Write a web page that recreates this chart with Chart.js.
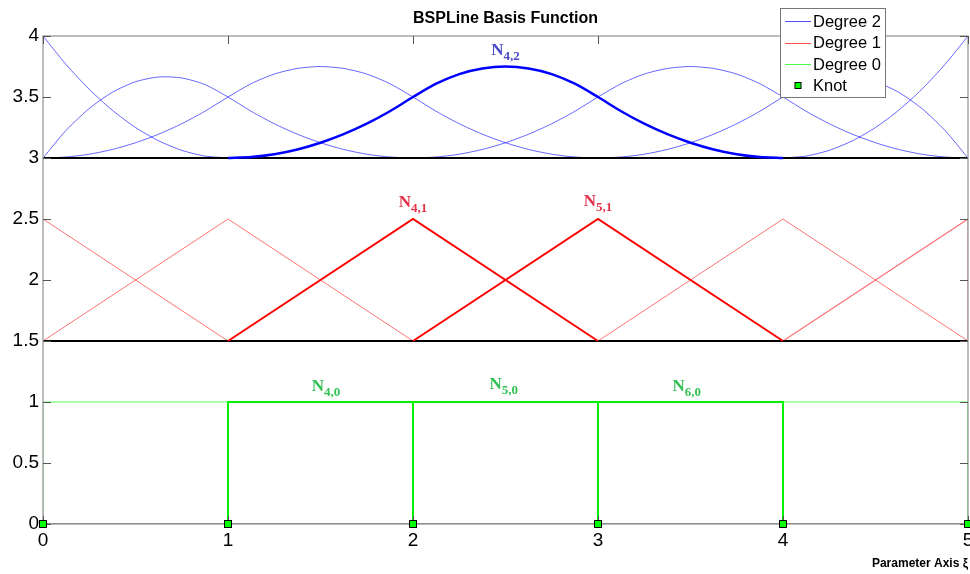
<!DOCTYPE html>
<html>
<head>
<meta charset="utf-8">
<title>BSPLine Basis Function</title>
<script src="https://cdn.jsdelivr.net/npm/chart.js@4/dist/chart.umd.min.js"></script>
<style>
  html, body { margin: 0; padding: 0; background: #fff; }
  #wrap { width: 970px; height: 574px; }
</style>
</head>
<body>
<div id="wrap"><canvas id="c" width="970" height="574"></canvas></div>
<script>
// Knot vector (clamped, quadratic) and axis ticks
const KNOTS = [0, 0, 0, 1, 2, 3, 4, 5, 5, 5];
const X_TICKS = [0, 1, 2, 3, 4, 5];
const Y_TICKS = [0, 0.5, 1, 1.5, 2, 2.5, 3, 3.5, 4];

// Sample positions for the degree-2 curves
const XI = [0, 0.125, 0.25, 0.375, 0.5, 0.625, 0.75, 0.875,
            1, 1.125, 1.25, 1.375, 1.5, 1.625, 1.75, 1.875,
            2, 2.125, 2.25, 2.375, 2.5, 2.625, 2.75, 2.875,
            3, 3.125, 3.25, 3.375, 3.5, 3.625, 3.75, 3.875,
            4, 4.125, 4.25, 4.375, 4.5, 4.625, 4.75, 4.875, 5];
const _ = null;

// Degree 2 basis functions, drawn on the band starting at 3
const N1_2 = [4, 3.766, 3.563, 3.391, 3.25, 3.141, 3.063, 3.016, 3,
              _,_,_,_,_,_,_,_, _,_,_,_,_,_,_,_, _,_,_,_,_,_,_,_, _,_,_,_,_,_,_,_];
const N2_2 = [3, 3.227, 3.406, 3.539, 3.625, 3.664, 3.656, 3.602, 3.5,
              3.383, 3.281, 3.195, 3.125, 3.070, 3.031, 3.008, 3,
              _,_,_,_,_,_,_,_, _,_,_,_,_,_,_,_, _,_,_,_,_,_,_,_];
const N3_2 = [3, 3.008, 3.031, 3.070, 3.125, 3.195, 3.281, 3.383, 3.5,
              3.609, 3.688, 3.734, 3.75, 3.734, 3.688, 3.609, 3.5,
              3.383, 3.281, 3.195, 3.125, 3.070, 3.031, 3.008, 3,
              _,_,_,_,_,_,_,_, _,_,_,_,_,_,_,_];
const N4_2 = [_,_,_,_,_,_,_,_,
              3, 3.008, 3.031, 3.070, 3.125, 3.195, 3.281, 3.383, 3.5,
              3.609, 3.688, 3.734, 3.75, 3.734, 3.688, 3.609, 3.5,
              3.383, 3.281, 3.195, 3.125, 3.070, 3.031, 3.008, 3,
              _,_,_,_,_,_,_,_];
const N5_2 = [_,_,_,_,_,_,_,_, _,_,_,_,_,_,_,_,
              3, 3.008, 3.031, 3.070, 3.125, 3.195, 3.281, 3.383, 3.5,
              3.609, 3.688, 3.734, 3.75, 3.734, 3.688, 3.609, 3.5,
              3.383, 3.281, 3.195, 3.125, 3.070, 3.031, 3.008, 3];
const N6_2 = [_,_,_,_,_,_,_,_, _,_,_,_,_,_,_,_, _,_,_,_,_,_,_,_,
              3, 3.008, 3.031, 3.070, 3.125, 3.195, 3.281, 3.383, 3.5,
              3.602, 3.656, 3.664, 3.625, 3.539, 3.406, 3.227, 3];
const N7_2 = [_,_,_,_,_,_,_,_, _,_,_,_,_,_,_,_, _,_,_,_,_,_,_,_, _,_,_,_,_,_,_,_,
              3, 3.016, 3.063, 3.141, 3.25, 3.391, 3.563, 3.766, 4];

// Degree 1 basis functions (hat functions), band starting at 1.5
const X1 = [0, 1, 2, 3, 4, 5, 5];
const N2_1 = [2.5, 1.5, _, _, _, _, _];
const N3_1 = [1.5, 2.5, 1.5, _, _, _, _];
const N4_1 = [_, 1.5, 2.5, 1.5, _, _, _];
const N5_1 = [_, _, 1.5, 2.5, 1.5, _, _];
const N6_1 = [_, _, _, 1.5, 2.5, 1.5, _];
const N7_1 = [_, _, _, _, 1.5, 2.5, 1.5];

// Degree 0 basis functions (steps), band starting at 0
const X0 = [0, 0, 1, 1, 2, 2, 3, 3, 4, 4, 5, 5];
const N3_0 = [0, 1, 1, 0, _, _, _, _, _, _, _, _];
const N4_0 = [_, _, 0, 1, 1, 0, _, _, _, _, _, _];
const N5_0 = [_, _, _, _, 0, 1, 1, 0, _, _, _, _];
const N6_0 = [_, _, _, _, _, _, 0, 1, 1, 0, _, _];
const N7_0 = [_, _, _, _, _, _, _, _, 0, 1, 1, 0];

// Band baselines
const BASE_X = [0, 5];
const BASELINES = [3, 1.5, 0];

// Curve annotations: name, subscript, x, y
const LABELS = [
  { n: 'N', sub: '4,2', x: 2.5,  y: 3.845, color: '#4b4bc8' },
  { n: 'N', sub: '4,1', x: 2.0,  y: 2.60,  color: '#e3334a' },
  { n: 'N', sub: '5,1', x: 3.0,  y: 2.61,  color: '#e3334a' },
  { n: 'N', sub: '4,0', x: 1.53, y: 1.09,  color: '#33c155' },
  { n: 'N', sub: '5,0', x: 2.49, y: 1.105, color: '#33c155' },
  { n: 'N', sub: '6,0', x: 3.48, y: 1.09,  color: '#33c155' }
];

const LEGEND = [
  { text: 'Degree 2', color: '#4d4dff', type: 'line' },
  { text: 'Degree 1', color: '#ff4d4d', type: 'line' },
  { text: 'Degree 0', color: '#4dff4d', type: 'line' },
  { text: 'Knot', color: '#00ff00', type: 'knot' }
];

const THIN_BLUE = 'rgba(0,0,255,0.6)';
const BOLD_BLUE = '#0000ff';
const THIN_RED = 'rgba(255,0,0,0.55)';
const BOLD_RED = '#ff0000';
const THIN_GREEN = 'rgba(0,255,0,0.65)';
const BOLD_GREEN = '#00f000';

function pts(xs, ys) {
  return xs.map((x, i) => ({ x: x, y: ys[i] }));
}
function curve(xs, ys, color, width, order, smooth) {
  return {
    data: pts(xs, ys), borderColor: color, borderWidth: width,
    pointRadius: 0, fill: false, spanGaps: false, order: order,
    tension: smooth ? 0.25 : 0
  };
}

const datasets = [
  // knots on top
  {
    data: KNOTS.map(k => ({ x: k, y: 0 })), showLine: false,
    pointStyle: 'rect', pointRadius: 3.5, pointBackgroundColor: '#00ff00',
    pointBorderColor: '#000', pointBorderWidth: 1, order: 0
  },
  curve(XI, N4_2, BOLD_BLUE, 2.5, 2, true),
  curve(X1, N4_1, BOLD_RED, 2, 2, false),
  curve(X1, N5_1, BOLD_RED, 2, 2, false),
  curve(X0, N4_0, BOLD_GREEN, 2, 2, false),
  curve(X0, N5_0, BOLD_GREEN, 2, 2, false),
  curve(X0, N6_0, BOLD_GREEN, 2, 2, false),
  ...BASELINES.map((b, i) => curve(BASE_X, [b, b], i === 2 ? '#4a4a4a' : '#000', 2, 3, false)),
  curve(XI, N1_2, THIN_BLUE, 1, 5, true),
  curve(XI, N2_2, THIN_BLUE, 1, 5, true),
  curve(XI, N3_2, THIN_BLUE, 1, 5, true),
  curve(XI, N5_2, THIN_BLUE, 1, 5, true),
  curve(XI, N6_2, THIN_BLUE, 1, 5, true),
  curve(XI, N7_2, THIN_BLUE, 1, 5, true),
  curve(X1, N2_1, THIN_RED, 1, 5, false),
  curve(X1, N3_1, THIN_RED, 1, 5, false),
  curve(X1, N6_1, THIN_RED, 1, 5, false),
  curve(X1, N7_1, THIN_RED, 1.3, 5, false),
  curve(X0, N3_0, THIN_GREEN, 1, 5, false),
  curve(X0, N7_0, THIN_GREEN, 1, 5, false)
];

// Box, inward ticks, title, axis label, annotations and legend
const decorations = {
  id: 'decorations',
  afterDatasetsDraw(chart) {
    const ctx = chart.ctx;
    const a = chart.chartArea;
    const xs = chart.scales.x, ys = chart.scales.y;
    ctx.save();
    // axes box
    ctx.strokeStyle = '#a6a6a6';
    ctx.lineWidth = 1.5;
    ctx.strokeRect(a.left, a.top, a.right - a.left, a.bottom - a.top);
    // inward tick marks
    ctx.strokeStyle = '#555';
    ctx.lineWidth = 1;
    const L = 8;
    ctx.beginPath();
    X_TICKS.forEach(v => {
      const px = Math.round(xs.getPixelForValue(v)) + 0.5;
      ctx.moveTo(px, a.top); ctx.lineTo(px, a.top + L);
      ctx.moveTo(px, a.bottom); ctx.lineTo(px, a.bottom - L);
    });
    Y_TICKS.forEach(v => {
      const py = Math.round(ys.getPixelForValue(v)) + 0.5;
      ctx.moveTo(a.left, py); ctx.lineTo(a.left + L, py);
      ctx.moveTo(a.right, py); ctx.lineTo(a.right - L, py);
    });
    ctx.stroke();
    // redraw knots over the box bottom line
    const km = chart.getDatasetMeta(0);
    km.data.forEach(el => {
      ctx.fillStyle = '#00ff00';
      ctx.strokeStyle = '#000';
      ctx.lineWidth = 1;
      ctx.fillRect(el.x - 3.5, el.y - 3.5, 7, 7);
      ctx.strokeRect(el.x - 3.5, el.y - 3.5, 7, 7);
    });

    // title
    ctx.fillStyle = '#000';
    ctx.font = 'bold 16px "Liberation Sans", Arial, sans-serif';
    ctx.textAlign = 'center';
    ctx.textBaseline = 'alphabetic';
    ctx.fillText('BSPLine Basis Function', (a.left + a.right) / 2, 23);
    // x axis label
    ctx.font = 'bold 12px "Liberation Sans", Arial, sans-serif';
    ctx.textAlign = 'right';
    ctx.fillText('Parameter Axis \u03BE', a.right, 567);

    // N labels with subscripts
    LABELS.forEach(l => {
      const px = xs.getPixelForValue(l.x), py = ys.getPixelForValue(l.y);
      const fMain = 'bold 17px "Liberation Serif", "Times New Roman", serif';
      const fSub = 'bold 13px "Liberation Serif", "Times New Roman", serif';
      ctx.font = fMain; const w1 = ctx.measureText(l.n).width;
      ctx.font = fSub; const w2 = ctx.measureText(l.sub).width;
      const x0 = px - (w1 + w2) / 2;
      ctx.fillStyle = l.color;
      ctx.textAlign = 'left';
      ctx.font = fMain; ctx.fillText(l.n, x0, py);
      ctx.font = fSub; ctx.fillText(l.sub, x0 + w1, py + 5);
    });

    // legend
    const lx = 780.5, ly = 8.5, lw = 105, lh = 89;
    ctx.fillStyle = '#fff';
    ctx.fillRect(lx, ly, lw, lh);
    ctx.strokeStyle = '#777';
    ctx.lineWidth = 1;
    ctx.strokeRect(lx, ly, lw, lh);
    ctx.font = '16.5px "Liberation Sans", Arial, sans-serif';
    ctx.textBaseline = 'middle';
    ctx.textAlign = 'left';
    LEGEND.forEach((it, i) => {
      const y = 21 + i * 21.5;
      if (it.type === 'line') {
        ctx.strokeStyle = it.color;
        ctx.lineWidth = 1;
        ctx.beginPath();
        ctx.moveTo(785, Math.round(y) + 0.5); ctx.lineTo(811, Math.round(y) + 0.5);
        ctx.stroke();
      } else {
        ctx.fillStyle = it.color;
        ctx.fillRect(795, y - 3, 6, 6);
        ctx.strokeStyle = '#000';
        ctx.strokeRect(795, y - 3, 6, 6);
      }
      ctx.fillStyle = '#000';
      ctx.fillText(it.text, 813, y + 1);
    });
    ctx.restore();
  }
};

new Chart(document.getElementById('c'), {
  type: 'line',
  data: { datasets: datasets },
  options: {
    responsive: false,
    animation: false,
    devicePixelRatio: 1,
    layout: { autoPadding: false, padding: { top: 36, right: 2, left: 0, bottom: 0 } },
    plugins: { legend: { display: false }, title: { display: false }, tooltip: { enabled: false } },
    scales: {
      x: {
        type: 'linear', min: 0, max: 5,
        afterBuildTicks: s => { s.ticks = X_TICKS.map(v => ({ value: v })); },
        ticks: { color: '#000', font: { size: 19, family: '"Liberation Sans", Arial, sans-serif' }, padding: 5, maxRotation: 0, callback: v => String(v) },
        grid: { display: false, drawTicks: false },
        border: { display: false },
        afterFit: s => { s.height = 50; s.paddingLeft = 0; s.paddingRight = 0; }
      },
      y: {
        type: 'linear', min: 0, max: 4,
        afterBuildTicks: s => { s.ticks = Y_TICKS.map(v => ({ value: v })); },
        ticks: { color: '#000', font: { size: 19, family: '"Liberation Sans", Arial, sans-serif' }, padding: 4, callback: v => String(v) },
        grid: { display: false, drawTicks: false },
        border: { display: false },
        afterFit: s => { s.width = 43; s.paddingTop = 0; s.paddingBottom = 0; }
      }
    }
  },
  plugins: [decorations]
});
</script>
</body>
</html>
